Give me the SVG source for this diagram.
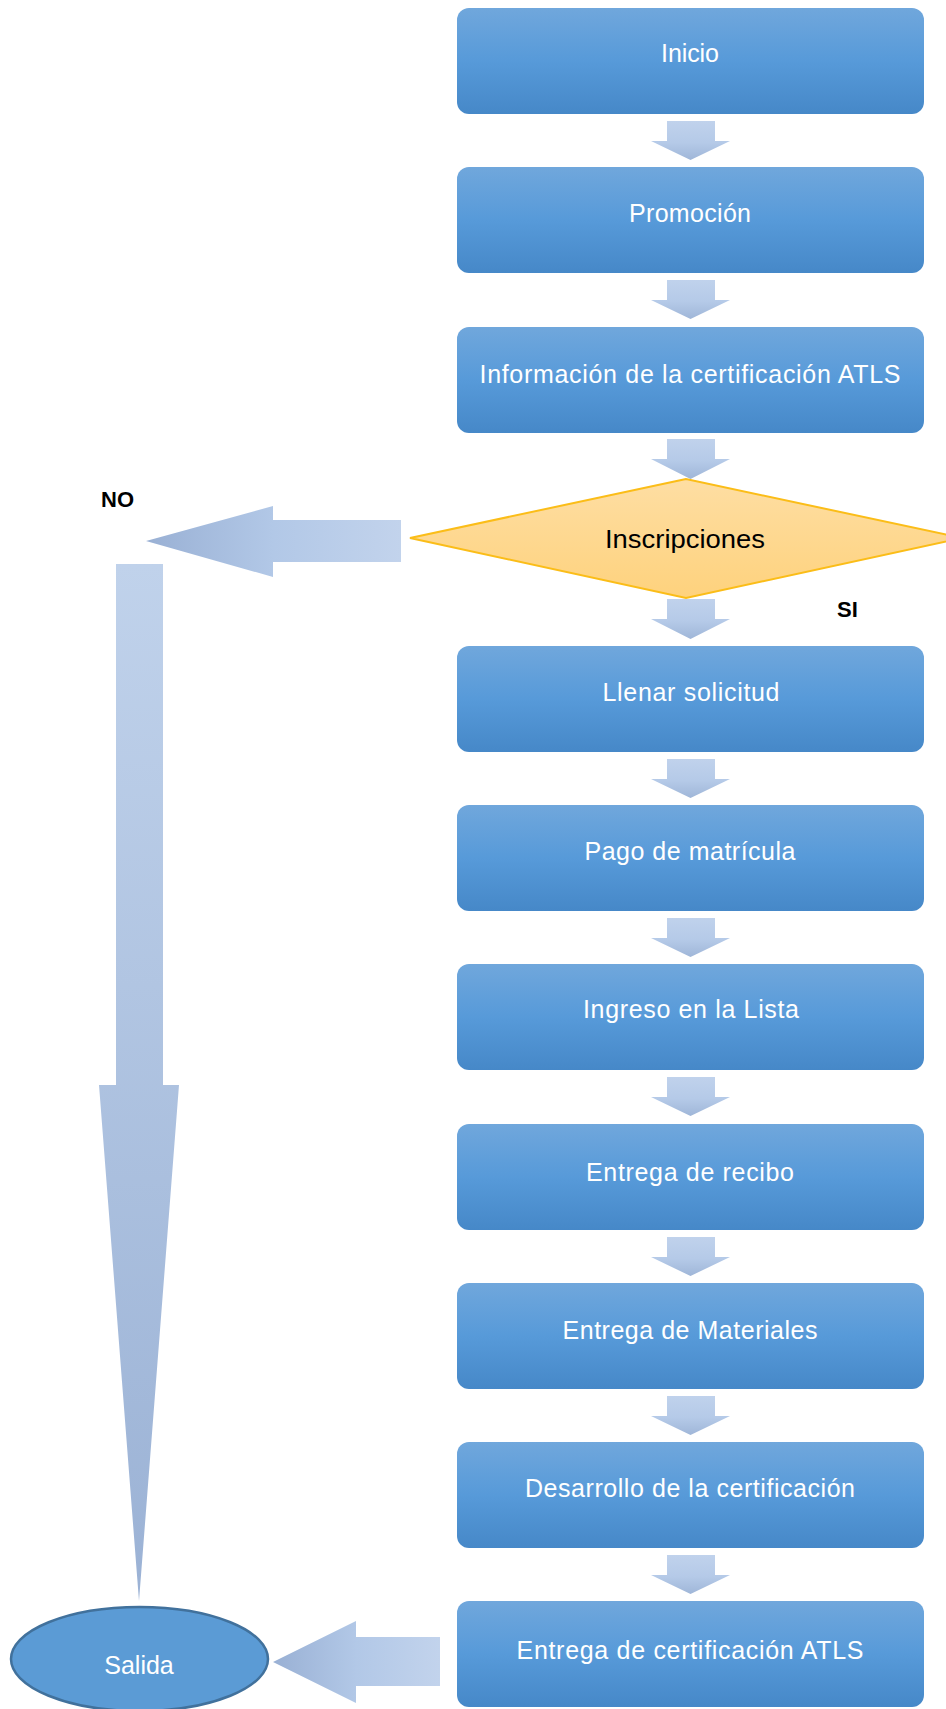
<svg xmlns="http://www.w3.org/2000/svg" width="946" height="1709" viewBox="0 0 946 1709">
<defs>
<linearGradient id="gBox" x1="0" y1="0" x2="0" y2="1">
<stop offset="0" stop-color="#70a7dc"/>
<stop offset="0.5" stop-color="#579ad9"/>
<stop offset="1" stop-color="#4688c8"/>
</linearGradient>
<linearGradient id="gDia" x1="0" y1="0" x2="0" y2="1">
<stop offset="0" stop-color="#fedea3"/>
<stop offset="1" stop-color="#fed27d"/>
</linearGradient>
<linearGradient id="gDown" x1="0" y1="0" x2="0" y2="1">
<stop offset="0" stop-color="#c0d2ec"/>
<stop offset="0.55" stop-color="#b5cae8"/>
<stop offset="1" stop-color="#9fb6d8"/>
</linearGradient>
<linearGradient id="gLeft" x1="0" y1="0" x2="1" y2="0">
<stop offset="0" stop-color="#99b0d4"/>
<stop offset="0.5" stop-color="#b2c8e7"/>
<stop offset="1" stop-color="#c2d3ec"/>
</linearGradient>
<linearGradient id="gLong" x1="0" y1="0" x2="0" y2="1">
<stop offset="0" stop-color="#c0d2eb"/>
<stop offset="1" stop-color="#9bb2d5"/>
</linearGradient>
</defs>
<style>
.box{fill:url(#gBox);}
.bt{fill:#ffffff;font-family:"Liberation Sans",Arial,sans-serif;font-size:25px;text-anchor:middle;}
.lbl{fill:#000000;font-family:"Liberation Sans",Arial,sans-serif;font-size:22px;font-weight:bold;}
.down{fill:url(#gDown);}
.left{fill:url(#gLeft);}
</style>
<g id="connectors">
<path class="down" d="M667,121H715V141H730L690.5,160L651,141H667Z"/>
<path class="down" d="M667,280H715V300H730L690.5,319L651,300H667Z"/>
<path class="down" d="M667,439H715V459H730L690.5,479L651,459H667Z"/>
<path class="down" d="M667,599H715V619H730L690.5,639L651,619H667Z"/>
<path class="down" d="M667,759H715V779H730L690.5,798L651,779H667Z"/>
<path class="down" d="M667,918H715V938H730L690.5,957L651,938H667Z"/>
<path class="down" d="M667,1077H715V1097H730L690.5,1116L651,1097H667Z"/>
<path class="down" d="M667,1237H715V1257H730L690.5,1276L651,1257H667Z"/>
<path class="down" d="M667,1396H715V1416H730L690.5,1435L651,1416H667Z"/>
<path class="down" d="M667,1555H715V1575H730L690.5,1594L651,1575H667Z"/>
<path class="left" d="M401,520V562H273V577L146,541L273,506V520Z"/>
<path fill="url(#gLong)" d="M116,564H163V1085H179L139,1601L99,1085H116Z"/>
<path class="left" d="M440,1637V1686H356V1703L273,1662L356,1621V1637Z"/>
<text class="lbl" x="101" y="507">NO</text>
<text class="lbl" x="837" y="617">SI</text>
</g>
<g id="n-inicio"><rect class="box" x="457" y="8" width="467" height="106" rx="12"/><text class="bt" x="690" y="62" textLength="58" lengthAdjust="spacing">Inicio</text></g>
<g id="n-promocion"><rect class="box" x="457" y="167" width="467" height="106" rx="12"/><text class="bt" x="690" y="222" textLength="122" lengthAdjust="spacing">Promoción</text></g>
<g id="n-informacion"><rect class="box" x="457" y="327" width="467" height="106" rx="12"/><text class="bt" x="690" y="383" textLength="421" lengthAdjust="spacing">Información de la certificación ATLS</text></g>
<g id="n-inscripciones"><polygon points="686,479 410,538 686,598 962,538" fill="url(#gDia)" stroke="#fbbd18" stroke-width="2"/><text x="685" y="548" fill="#000" font-family="'Liberation Sans',Arial,sans-serif" font-size="25.5" text-anchor="middle" textLength="160" lengthAdjust="spacingAndGlyphs">Inscripciones</text></g>
<g id="n-llenar"><rect class="box" x="457" y="646" width="467" height="106" rx="12"/><text class="bt" x="691" y="701" textLength="177" lengthAdjust="spacing">Llenar solicitud</text></g>
<g id="n-pago"><rect class="box" x="457" y="805" width="467" height="106" rx="12"/><text class="bt" x="690" y="860" textLength="211" lengthAdjust="spacing">Pago de matrícula</text></g>
<g id="n-ingreso"><rect class="box" x="457" y="964" width="467" height="106" rx="12"/><text class="bt" x="691" y="1018" textLength="216" lengthAdjust="spacing">Ingreso en la Lista</text></g>
<g id="n-recibo"><rect class="box" x="457" y="1124" width="467" height="106" rx="12"/><text class="bt" x="690" y="1181" textLength="208" lengthAdjust="spacing">Entrega de recibo</text></g>
<g id="n-materiales"><rect class="box" x="457" y="1283" width="467" height="106" rx="12"/><text class="bt" x="690" y="1339" textLength="255" lengthAdjust="spacing">Entrega de Materiales</text></g>
<g id="n-desarrollo"><rect class="box" x="457" y="1442" width="467" height="106" rx="12"/><text class="bt" x="690" y="1497" textLength="330" lengthAdjust="spacing">Desarrollo de la certificación</text></g>
<g id="n-entrega-cert"><rect class="box" x="457" y="1601" width="467" height="106" rx="12"/><text class="bt" x="690" y="1659" textLength="347" lengthAdjust="spacing">Entrega de certificación ATLS</text></g>
<g id="n-salida"><ellipse cx="139.5" cy="1659" rx="128.5" ry="52" fill="#5b9bd5" stroke="#41719c" stroke-width="2.5"/><text class="bt" x="139" y="1674">Salida</text></g>
</svg>
